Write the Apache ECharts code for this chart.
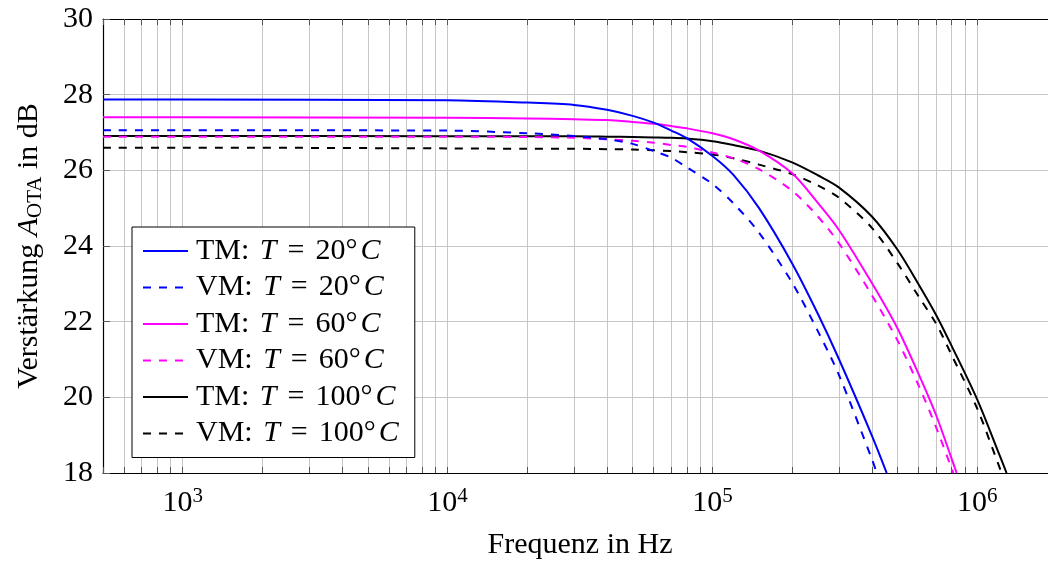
<!DOCTYPE html>
<html>
<head>
<meta charset="utf-8">
<title>Verstärkung OTA</title>
<style>
  html, body { margin: 0; padding: 0; background: #fff; }
  #main { width: 1048px; height: 561px; }
</style>
</head>
<body>
<div id="main"></div>
<script src="https://cdn.jsdelivr.net/npm/echarts@6/dist/echarts.min.js"></script>
<script>
// Frequenzen in Hz (gemeinsames Raster)
var freqHz = [500, 1e3, 1e4, 2e4, 3e4, 4e4, 5e4, 6e4, 7e4, 8e4, 1e5, 1.2e5, 1.5e5,
              2e5, 2.5e5, 3e5, 4e5, 5e5, 6e5, 7e5, 8e5, 1e6, 1.2e6];

// Verstärkung in dB
var tm20 = [27.87, 27.87, 27.85, 27.79, 27.73, 27.60, 27.44, 27.26, 27.05, 26.85, 26.38, 25.88, 25.00,
            23.54, 22.21, 21.02, 18.99];
var vm20 = [27.06, 27.06, 27.05, 26.98, 26.91, 26.82, 26.70, 26.51, 26.33, 26.08, 25.64, 25.13, 24.35,
            23.03, 21.75, 20.60, 18.37];
var tm60 = [27.40, 27.40, 27.39, 27.37, 27.35, 27.33, 27.28, 27.23, 27.17, 27.11, 26.98, 26.82, 26.52,
            25.92, 25.14, 24.43, 23.02, 21.82, 20.62, 19.52, 18.38];
var vm60 = [26.89, 26.89, 26.89, 26.88, 26.86, 26.82, 26.78, 26.73, 26.67, 26.62, 26.47, 26.32, 26.03,
            25.46, 24.78, 24.08, 22.70, 21.50, 20.32, 19.20, 18.12];
var tm100 = [26.91, 26.91, 26.90, 26.90, 26.90, 26.89, 26.88, 26.87, 26.86, 26.84, 26.77, 26.67, 26.52,
             26.21, 25.87, 25.55, 24.78, 23.90, 22.99, 22.17, 21.36, 19.94, 18.56];
var vm100 = [26.60, 26.60, 26.58, 26.57, 26.57, 26.56, 26.55, 26.53, 26.51, 26.48, 26.42, 26.32, 26.15,
             25.90, 25.60, 25.28, 24.48, 23.54, 22.67, 21.94, 21.12, 19.70, 18.24];

// Frequenz, bei der die Kurve den unteren Rand (18 dB) erreicht
var cutoffHz = [4.55e5, 4.17e5, 8.36e5, 8.12e5, 1.29e6, 1.236e6];

var seriesNames = ['TM: T = 20°C', 'VM: T = 20°C', 'TM: T = 60°C', 'VM: T = 60°C', 'TM: T = 100°C', 'VM: T = 100°C'];
var legendRich = ['{r|TM: }{i|T}{e|=}{r|20°}{i|C}', '{r|VM: }{i|T}{e|=}{r|20°}{i|C}',
                  '{r|TM: }{i|T}{e|=}{r|60°}{i|C}', '{r|VM: }{i|T}{e|=}{r|60°}{i|C}',
                  '{r|TM: }{i|T}{e|=}{r|100°}{i|C}', '{r|VM: }{i|T}{e|=}{r|100°}{i|C}'];
var allValues = [tm20, vm20, tm60, vm60, tm100, vm100];
var colors = ['#0000ff', '#0000ff', '#ff00ff', '#ff00ff', '#000000', '#000000'];
var dashed = [false, true, false, true, false, true];

var xLabelHz = [1e3, 1e4, 1e5, 1e6];
var yMin = 18, yMax = 30, yStep = 2;

var FONT = 'Liberation Serif';

// Gitterlinien bei 1..9 * 10^k
var gridHz = [];
for (var k = 2; k <= 6; k++) {
    for (var m = 1; m <= 9; m++) {
        var v = m * Math.pow(10, k);
        if (v >= 500 && v <= 2e6) gridHz.push(v);
    }
}

function buildData(vals, cut) {
    var d = [];
    for (var i = 0; i < vals.length; i++) {
        if (freqHz[i] < cut) d.push([freqHz[i], vals[i]]);
    }
    d.push([cut, yMin]);
    return d;
}

var series = [];
for (var s = 0; s < seriesNames.length; s++) {
    series.push({
        name: seriesNames[s],
        type: 'line',
        data: buildData(allValues[s], cutoffHz[s]),
        symbol: 'none',
        smooth: 0.3,
        lineStyle: { color: colors[s], width: 2, type: dashed[s] ? [8, 8] : 'solid' },
        itemStyle: { color: colors[s] },
        z: 10 - s
    });
}

var myChart = echarts.init(document.getElementById('main'));
var option = {
    animation: false,
    textStyle: { fontFamily: FONT },
    grid: { left: 103, top: 19, right: -9, bottom: 88, containLabel: false, outerBoundsMode: 'none' },
    legend: {
        orient: 'vertical',
        left: 132,
        top: 227,
        data: seriesNames,
        backgroundColor: '#fff',
        borderColor: '#000',
        borderWidth: 1,
        padding: [9, 16, 9, 10],
        itemWidth: 45,
        itemHeight: 2,
        itemGap: 6.5,
        itemStyle: { opacity: 0 },
        formatter: function (name) { return legendRich[seriesNames.indexOf(name)]; },
        textStyle: {
            padding: [0, 0, 0, 3],
            rich: {
                r: { fontFamily: FONT, fontSize: 30, lineHeight: 30, color: '#000' },
                i: { fontFamily: FONT, fontStyle: 'italic', fontSize: 30, lineHeight: 30, color: '#000', padding: [0, 0, 0, 3] },
                e: { fontFamily: FONT, fontSize: 30, lineHeight: 30, color: '#000', padding: [0, 11, 0, 11] }
            }
        }
    },
    xAxis: [{
        type: 'log',
        logBase: 10,
        min: 500,
        max: 2e6,
        name: 'Frequenz in Hz',
        nameLocation: 'middle',
        nameGap: 57,
        nameTextStyle: { fontFamily: FONT, fontSize: 30, color: '#000' },
        axisLine: { show: true, onZero: false, lineStyle: { color: '#000', width: 1.2 } },
        axisTick: { show: true, inside: true, length: 6, customValues: gridHz, lineStyle: { color: '#555', width: 1 } },
        splitLine: { show: true, lineStyle: { color: '#c6c6c6', width: 1 } },
        minorTick: { show: false },
        minorSplitLine: { show: false },
        axisLabel: {
            customValues: xLabelHz,
            margin: 13,
            formatter: function (v) {
                var e = Math.round(Math.log10(v));
                return '{b|10}{s|' + e + '}';
            },
            rich: {
                b: { fontFamily: FONT, fontSize: 30, lineHeight: 34, color: '#000' },
                s: { fontFamily: FONT, fontSize: 21, lineHeight: 24, verticalAlign: 'top', color: '#000' }
            }
        }
    }, {
        type: 'log',
        logBase: 10,
        min: 500,
        max: 2e6,
        position: 'top',
        axisLine: { show: true, onZero: false, lineStyle: { color: '#000', width: 1.2 } },
        axisTick: { show: true, inside: true, length: 6, customValues: gridHz, lineStyle: { color: '#555', width: 1 } },
        axisLabel: { show: false },
        splitLine: { show: false }
    }],
    yAxis: {
        type: 'value',
        min: yMin,
        max: yMax,
        interval: yStep,
        name: '{r|Verstärkung }{i|A}{s|OTA}{r| in dB}',
        nameLocation: 'middle',
        nameGap: 57,
        nameTextStyle: {
            rich: {
                r: { fontFamily: FONT, fontSize: 30, lineHeight: 34, color: '#000' },
                i: { fontFamily: FONT, fontStyle: 'italic', fontSize: 30, lineHeight: 34, color: '#000' },
                s: { fontFamily: FONT, fontSize: 21, lineHeight: 18, verticalAlign: 'bottom', color: '#000' }
            }
        },
        axisLine: { show: true, lineStyle: { color: '#000', width: 1.2 } },
        axisTick: { show: true, inside: true, length: 7, lineStyle: { color: '#555', width: 1 } },
        splitLine: { show: true, lineStyle: { color: '#c6c6c6', width: 1 } },
        axisLabel: { margin: 10, fontFamily: FONT, fontSize: 30, color: '#000' }
    },
    series: series
};
myChart.setOption(option);
</script>
</body>
</html>
